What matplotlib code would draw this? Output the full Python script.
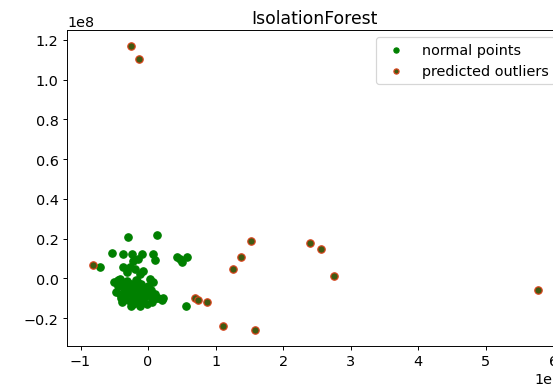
import numpy as np
import matplotlib
matplotlib.use("Agg")
import matplotlib.pyplot as plt

# values, in units of 1e8
normal_x = [-0.30, 0.13, -0.53, -0.37, -0.24, -0.09, 0.07, 0.10, 0.43, 0.58, 0.50, 0.47,
            -0.71, -0.22, -0.15, -0.37, -0.27, -0.19, -0.07, -0.31, -0.12, -0.41, -0.31,
            -0.16, 0.03, 0.07,
            -0.50, -0.45, -0.40, -0.35, -0.30, -0.25, -0.20, -0.15, -0.10, -0.05, 0.00, 0.05,
            -0.48, -0.42, -0.36, -0.30, -0.24, -0.18, -0.12, -0.06, 0.02, 0.10, 0.15, 0.20,
            -0.38, -0.30, -0.22, -0.15, -0.08, -0.02, 0.06, -0.25, -0.12,
            -0.44, -0.33, -0.27, -0.21, -0.09, -0.03, 0.12, -0.40, -0.18,
            0.56, 0.22]
normal_y = [0.21, 0.22, 0.13, 0.125, 0.125, 0.125, 0.125, 0.095, 0.11, 0.11, 0.085, 0.10,
            0.056, 0.086, 0.096, 0.06, 0.06, 0.045, 0.035, 0.03, 0.02, -0.005, -0.015,
            -0.015, -0.005, -0.02,
            -0.02, -0.04, -0.03, -0.05, -0.04, -0.03, -0.05, -0.04, -0.03, -0.05, -0.04, -0.06,
            -0.07, -0.08, -0.09, -0.07, -0.08, -0.09, -0.07, -0.08, -0.09, -0.08, -0.10, -0.11,
            -0.12, -0.11, -0.13, -0.12, -0.11, -0.13, -0.12, -0.14, -0.14,
            -0.01, -0.02, -0.06, -0.10, -0.10, -0.08, -0.10, -0.10, -0.01,
            -0.14, -0.096]

outlier_x = [-0.25, -0.13, -0.81, 1.53, 1.38, 1.26, 0.70, 0.74, 0.87, 1.11, 1.59,
             2.40, 2.56, 2.76, 5.78]
outlier_y = [1.167, 1.106, 0.066, 0.19, 0.106, 0.045, -0.10, -0.11, -0.12, -0.24, -0.26,
             0.18, 0.15, 0.01, -0.056]

scale = 1e8
nx = np.array(normal_x) * scale
ny = np.array(normal_y) * scale
ox = np.array(outlier_x) * scale
oy = np.array(outlier_y) * scale

plt.rcParams["font.size"] = 12

fig = plt.figure(figsize=(553 / 86.4, 392 / 86.4), dpi=86.4)
ax = fig.add_axes([67 / 553, 45 / 392, 495 / 553, 316 / 392])

ax.scatter(nx, ny, s=38, c="green", label="normal points")
ax.scatter(ox, oy, s=38, facecolor="#3f5a12", edgecolor="#d9441c", linewidth=1.0,
           label="predicted outliers")

ax.set_xlim(-1.2e8, 6.13e8)
ax.set_ylim(-0.34e8, 1.25e8)
ax.set_title("IsolationForest", fontsize=14.4)
ax.legend(loc="upper right", markerscale=0.7)

fig.savefig("out.png", dpi=86.4)
